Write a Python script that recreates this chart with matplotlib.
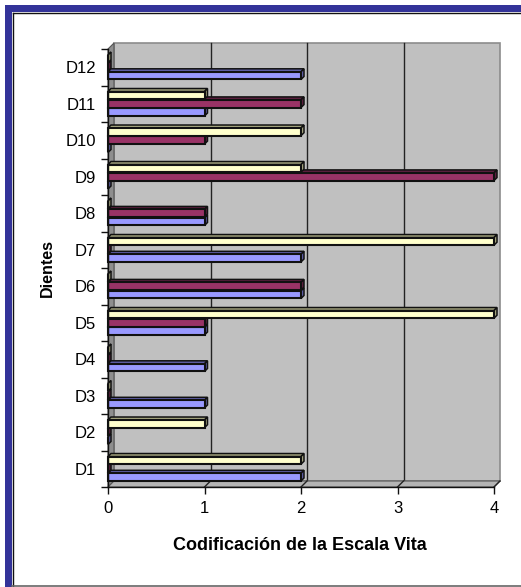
import matplotlib
matplotlib.use("Agg")
import matplotlib.pyplot as plt
from matplotlib.patches import Rectangle, Polygon
from matplotlib.transforms import ScaledTranslation
from matplotlib.lines import Line2D

plt.rcParams['font.family'] = ['Liberation Sans', 'DejaVu Sans']

# Data
categories = ["D1", "D2", "D3", "D4", "D5", "D6", "D7", "D8", "D9", "D10", "D11", "D12"]
serie_azul = [2, 0, 1, 1, 1, 2, 2, 1, 0, 0, 1, 2]
serie_granate = [0, 0, 0, 0, 1, 2, 0, 1, 4, 1, 2, 0]
serie_crema = [2, 1, 0, 0, 4, 0, 4, 0, 2, 2, 1, 0]
x_ticks = [0, 1, 2, 3, 4]

series = [
    (serie_azul, "#9999FF", "#5F5FA8", -0.23),
    (serie_granate, "#993366", "#5E1F40", 0.0),
    (serie_crema, "#FFFFCC", "#A8A880", 0.23),
]

W, H, DPI = 521, 587, 100
fig = plt.figure(figsize=(W / DPI, H / DPI), dpi=DPI)
fig.patch.set_facecolor("white")

def fx(px):
    return px / W

def fy(py):
    return 1 - py / H

# Frame: navy bands on the top and left edges, thin dark inner line, grey base line
navy = "#333399"
fig.add_artist(Rectangle((fx(5), 0), fx(12) - fx(5), fy(5), transform=fig.transFigure,
                         facecolor=navy, edgecolor="none", zorder=-3))
fig.add_artist(Rectangle((fx(5), fy(12)), 1 - fx(5), fy(5) - fy(12), transform=fig.transFigure,
                         facecolor=navy, edgecolor="none", zorder=-3))
fig.add_artist(Line2D([fx(12.5), fx(12.5)], [0, fy(12.5)], transform=fig.transFigure,
                      color="#111111", linewidth=1.0, zorder=-2))
fig.add_artist(Line2D([fx(12.5), 1], [fy(12.5), fy(12.5)], transform=fig.transFigure,
                      color="#111111", linewidth=1.0, zorder=-2))
fig.add_artist(Line2D([fx(12), 1], [fy(586), fy(586)], transform=fig.transFigure,
                      color="#666666", linewidth=1.2, zorder=-1))

# Front plane of the plot
x0, x1, ytop, ybot = 108, 494, 49, 487
ax = fig.add_axes([fx(x0), fy(ybot), fx(x1) - fx(x0), fy(ytop) - fy(ybot)])
ax.set_zorder(5)
ax.set_facecolor("none")
n = len(categories)
ax.set_xlim(0, 4)
ax.set_ylim(0.5, n + 0.5)

px_x = (x1 - x0) / 4.0
px_y = (ybot - ytop) / float(n)
depth = 6
ddx, ddy = depth / px_x, depth / px_y

# Back wall
shift = ax.transData + ScaledTranslation(depth / DPI, depth / DPI, fig.dpi_scale_trans)
ax.add_patch(Rectangle((0, 0.5), 4, n, transform=shift, facecolor="#C0C0C0",
                       edgecolor="#8C8C8C", linewidth=1.2, zorder=0, clip_on=False))
for xv in x_ticks[1:-1]:
    ax.plot([xv, xv], [0.5, n + 0.5], transform=shift, color="#222222",
            linewidth=1.0, zorder=0.5, clip_on=False)

# Left side wall and floor
ax.add_patch(Polygon([(0, 0.5), (0, n + 0.5), (ddx, n + 0.5 + ddy), (ddx, 0.5 + ddy)],
                     closed=True, facecolor="#8E8E8E", edgecolor="#555555",
                     linewidth=0.8, zorder=0.6, clip_on=False))
ax.add_patch(Polygon([(0, 0.5), (4, 0.5), (4 + ddx, 0.5 + ddy), (ddx, 0.5 + ddy)],
                     closed=True, facecolor="#B4B4B4", edgecolor="#555555",
                     linewidth=0.8, zorder=0.6, clip_on=False))
for xv in x_ticks[1:]:
    ax.plot([xv, xv + ddx], [0.5, 0.5 + ddy], color="#222222", linewidth=1.0,
            zorder=0.7, clip_on=False)

# Bars with a shallow extruded end and top face
bh = 0.21
bdx, bdy = 3 / px_x, 3 / px_y
for values, face, dark, off in series:
    for i, v in enumerate(values):
        yc = i + 1 + off
        y_lo, y_hi = yc - bh / 2, yc + bh / 2
        # top face
        ax.add_patch(Polygon([(0, y_hi), (v, y_hi), (v + bdx, y_hi + bdy), (bdx, y_hi + bdy)],
                             closed=True, facecolor=dark, edgecolor="#111111",
                             linewidth=1.1, zorder=2, clip_on=False))
        # end face
        ax.add_patch(Polygon([(v, y_lo), (v, y_hi), (v + bdx, y_hi + bdy), (v + bdx, y_lo + bdy)],
                             closed=True, facecolor=dark, edgecolor="#111111",
                             linewidth=1.1, zorder=2, clip_on=False))
        # front face
        ax.barh(yc, v, height=bh, left=0, color=face, edgecolor="#111111",
                linewidth=1.5, zorder=3, clip_on=False)

# Axes, ticks and labels
for s in ["top", "right"]:
    ax.spines[s].set_visible(False)
for s in ["left", "bottom"]:
    ax.spines[s].set_color("#111111")
    ax.spines[s].set_linewidth(1.0)
    ax.spines[s].set_zorder(4)

ax.set_xticks(x_ticks)
ax.set_xticklabels([str(t) for t in x_ticks], fontsize=12)
ax.tick_params(axis="x", direction="out", length=5, width=1, color="#111111", pad=5)

ax.set_yticks(range(1, n + 1))
ax.set_yticklabels(categories, fontsize=12)
ax.set_yticks([k + 0.5 for k in range(0, n + 1)], minor=True)
ax.tick_params(axis="y", which="major", length=0, pad=8.5)
ax.tick_params(axis="y", which="minor", direction="out", length=5, width=1, color="#111111")

fig.text(fx(300), fy(546), "Codificación de la Escala Vita", ha="center", va="center",
         fontsize=13, fontweight="bold")
fig.text(fx(47), fy(268), "Dientes", ha="center", va="center", rotation=90,
         fontsize=11.5, fontweight="bold")

fig.savefig("out.png", dpi=DPI)
